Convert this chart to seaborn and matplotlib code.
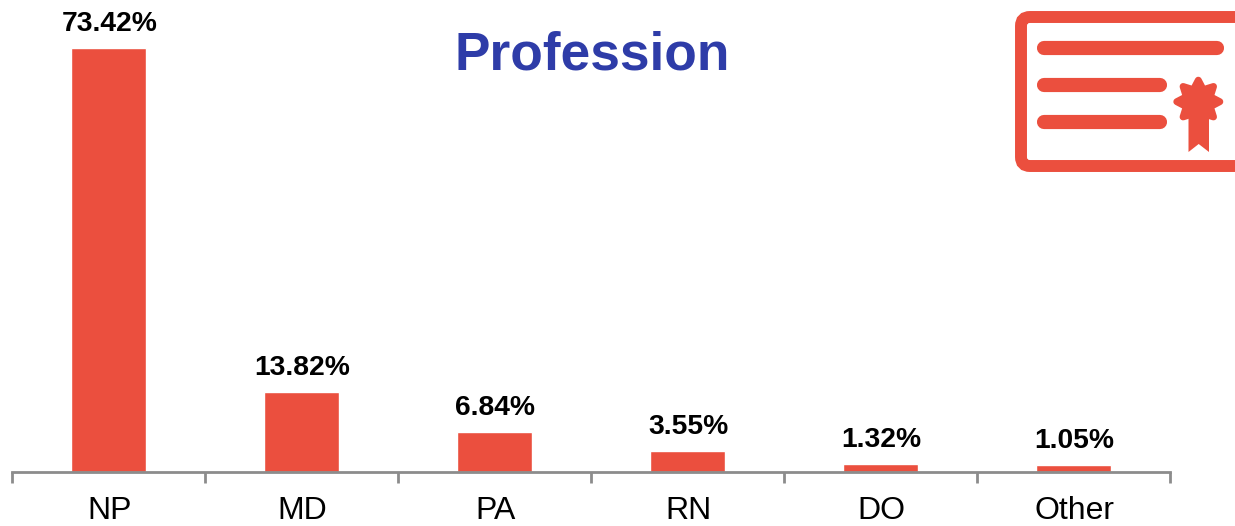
import numpy as np
import pandas as pd
import matplotlib
matplotlib.use("Agg")
import matplotlib.pyplot as plt
from matplotlib.patches import FancyBboxPatch, Polygon
import seaborn as sns

professions = ["NP", "MD", "PA", "RN", "DO", "Other"]
shares = [73.42, 13.82, 6.84, 3.55, 1.32, 1.05]

RED = "#EB4F3E"
BLUE = "#2E3CA8"
GREY = "#8C8C8C"
W, H = 1235, 526

sns.set_theme(style="white")
plt.rcParams["font.family"] = ["Liberation Sans", "DejaVu Sans"]

fig = plt.figure(figsize=(W / 100, H / 100), dpi=100, facecolor="white")
ax = fig.add_axes([12 / W, 1 - 471.5 / H, (1170 - 12) / W, 471.5 / H])

frame = pd.DataFrame({"profession": professions, "share": shares})
sns.barplot(data=frame, x="profession", y="share", color=RED, saturation=1,
            width=0.39, ax=ax)
ax.set_xlim(-0.5, 5.5)
ax.set_ylim(0, 471.5 / 5.765)
ax.set_xlabel("")
ax.set_ylabel("")
ax.set_yticks([])

# Ticks sit between the categories; labels stay centred under the bars.
ax.set_xticks(np.arange(-0.5, 6.0, 1.0))
ax.set_xticklabels([])
ax.tick_params(axis="x", length=8, width=2, color=GREY, bottom=True)
ax.set_xticks(np.arange(len(professions)) + 0.005, labels=professions, minor=True)
ax.tick_params(axis="x", which="minor", length=0, pad=17.5, labelsize=23,
               labelcolor="black")

for side in ("top", "left", "right"):
    ax.spines[side].set_visible(False)
ax.spines["bottom"].set_color(GREY)
ax.spines["bottom"].set_linewidth(2)

for i, value in enumerate(shares):
    ax.annotate(f"{value:.2f}%", (i + 0.005, value), xytext=(0, 8),
                textcoords="offset points", ha="center", va="bottom",
                fontsize=20.3, fontweight="bold", color="black",
                annotation_clip=False)

fig.text(592 / W, 1 - 56 / H, "Profession", ha="center", va="center",
         fontsize=38.3, fontweight="bold", color=BLUE)

# Certificate icon, laid out in pixel coordinates on a full-figure overlay.
icon = fig.add_axes([0, 0, 1, 1], facecolor="none")
icon.set_xlim(0, W)
icon.set_ylim(H, 0)
icon.axis("off")

icon.add_patch(FancyBboxPatch((1021, 17), 260, 149,
                              boxstyle="round,pad=0,rounding_size=9",
                              fc="white", ec=RED, lw=8.6))
for y, x_end in [(48, 1224), (85, 1167), (122, 1167)]:
    icon.plot([1044, x_end - 7], [y, y], color=RED, lw=10.2,
              solid_capstyle="round")

cx, cy = 1198.3, 101.7
angles = np.deg2rad(np.arange(0, 360, 22.5) - 90)
radii = np.where(np.arange(16) % 2 == 0, 21.5, 13.0)
icon.add_patch(Polygon(np.column_stack([cx + radii * np.cos(angles),
                                        cy + radii * np.sin(angles)]),
                       closed=True, fc=RED, ec=RED, lw=5.0, joinstyle="round"))
icon.add_patch(Polygon([(1188.5, 112), (1209, 112), (1209, 152),
                        (1198.7, 144), (1188.5, 152)],
                       closed=True, fc=RED, ec="none"))

fig.savefig("out.png", dpi=100, facecolor="white")
